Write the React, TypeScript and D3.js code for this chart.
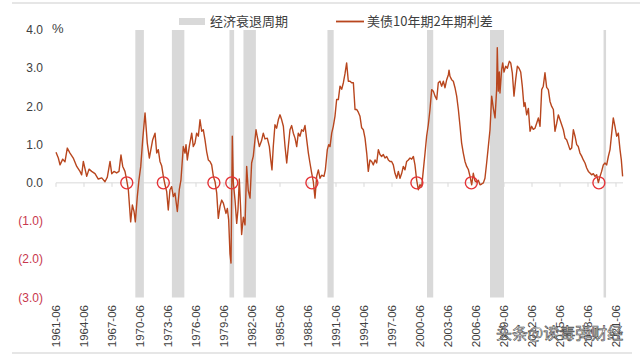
import React from "react";
import * as d3 from "d3";

const years = [
  1961.5, 1961.75, 1961.93, 1962.22, 1962.46, 1962.71, 1963.0, 1963.35, 1963.72, 1964.07, 1964.25, 1964.43, 1964.79,
  1965.04, 1965.32, 1965.68, 1966.03, 1966.4, 1966.75, 1967.0, 1967.29, 1967.47, 1967.71, 1968.0, 1968.25, 1968.46,
  1968.65, 1968.89, 1969.07, 1969.25, 1969.5, 1969.68, 1969.86, 1970.0, 1970.21, 1970.39, 1970.58, 1970.79, 1971.04,
  1971.28, 1971.5, 1971.86, 1972.11, 1972.29, 1972.46, 1972.64, 1972.82, 1973.0, 1973.18, 1973.36, 1973.53, 1973.71,
  1973.89, 1974.07, 1974.25, 1974.5, 1974.71, 1974.89, 1975.14, 1975.32, 1975.43, 1975.57, 1975.78, 1976.04, 1976.21,
  1976.39, 1976.57, 1976.75, 1976.93, 1977.11, 1977.28, 1977.46, 1977.64, 1977.82, 1978.0, 1978.18, 1978.36, 1978.54,
  1978.72, 1978.89, 1979.07, 1979.25, 1979.43, 1979.71, 1979.86, 1980.0, 1980.14, 1980.25, 1980.39, 1980.5, 1980.68,
  1980.86, 1981.0, 1981.14, 1981.27, 1981.39, 1981.57, 1981.75, 1981.93, 1982.1, 1982.29, 1982.46, 1982.64, 1982.93,
  1983.07, 1983.29, 1983.52, 1983.71, 1983.89, 1984.14, 1984.36, 1984.51, 1984.64, 1984.78, 1984.96, 1985.14, 1985.32,
  1985.5, 1985.68, 1985.86, 1986.04, 1986.22, 1986.39, 1986.57, 1986.75, 1986.93, 1987.11, 1987.29, 1987.46, 1987.64,
  1987.82, 1988.0, 1988.18, 1988.36, 1988.54, 1988.71, 1988.89, 1989.07, 1989.25, 1989.43, 1989.61, 1989.79, 1989.96,
  1990.21, 1990.36, 1990.57, 1990.72, 1990.86, 1991.04, 1991.21, 1991.39, 1991.57, 1991.75, 1991.93, 1992.11, 1992.29,
  1992.46, 1992.64, 1992.82, 1993.0, 1993.18, 1993.36, 1993.43, 1993.54, 1993.71, 1993.89, 1994.07, 1994.25, 1994.43,
  1994.61, 1994.79, 1994.96, 1995.14, 1995.32, 1995.5, 1995.68, 1995.86, 1996.04, 1996.21, 1996.39, 1996.57, 1996.75,
  1996.93, 1997.11, 1997.29, 1997.46, 1997.64, 1997.82, 1998.0, 1998.18, 1998.36, 1998.54, 1998.71, 1998.89, 1999.07,
  1999.25, 1999.43, 1999.61, 1999.79, 1999.96, 2000.14, 2000.32, 2000.5, 2000.68, 2000.86, 2001.04, 2001.21, 2001.39,
  2001.57, 2001.75, 2001.93, 2002.11, 2002.29, 2002.46, 2002.64, 2002.82, 2003.0, 2003.18, 2003.36, 2003.54, 2003.61,
  2003.71, 2003.89, 2004.07, 2004.25, 2004.43, 2004.61, 2004.79, 2004.96, 2005.14, 2005.32, 2005.5, 2005.68, 2005.86,
  2006.04, 2006.21, 2006.39, 2006.57, 2006.75, 2006.93, 2007.11, 2007.29, 2007.46, 2007.64, 2007.82, 2008.0, 2008.18,
  2008.36, 2008.54, 2008.71, 2008.78, 2008.89, 2009.0, 2009.07, 2009.25, 2009.36, 2009.5, 2009.68, 2009.86, 2010.07,
  2010.22, 2010.39, 2010.57, 2010.75, 2010.93, 2011.11, 2011.29, 2011.46, 2011.64, 2011.75, 2011.93, 2012.11, 2012.29,
  2012.46, 2012.64, 2012.82, 2013.0, 2013.18, 2013.36, 2013.54, 2013.71, 2013.89, 2014.07, 2014.25, 2014.43, 2014.61,
  2014.79, 2014.96, 2015.14, 2015.32, 2015.5, 2015.68, 2015.86, 2016.04, 2016.21, 2016.39, 2016.57, 2016.75, 2016.93,
  2017.11, 2017.29, 2017.46, 2017.64, 2017.82, 2018.0, 2018.18, 2018.36, 2018.54, 2018.71, 2018.89, 2019.07, 2019.25,
  2019.43, 2019.61, 2019.79, 2019.96, 2020.14, 2020.32, 2020.5, 2020.68, 2020.86, 2021.04, 2021.21, 2021.39, 2021.57,
  2021.75, 2021.93, 2022.07, 2022.21,
];

// 10Y - 2Y treasury spread, %
const spread = [
  0.8, 0.65, 0.47, 0.62, 0.55, 0.91, 0.78, 0.65, 0.43, 0.3, 0.21, 0.56, 0.17,
  0.36, 0.3, 0.24, 0.1, 0.13, 0.03, 0.15, 0.56, 0.24, 0.3, 0.26, 0.3, 0.73,
  0.43, 0.3, 0.08, -0.18, -1.02, -0.58, -0.75, -1.02, -0.36, 0.08, 0.43, 1.13, 1.83,
  1.04, 0.65, 1.13, 1.3, 0.78, 0.87, 0.56, 0.45, 0.17, -0.05, -0.23, -0.71, -0.18,
  -0.1, -0.36, -0.27, -0.75, -0.18, 0.08, 0.95, 0.78, 1.0, 0.6, 0.95, 1.3, 0.95,
  1.04, 1.3, 1.22, 1.65, 1.35, 1.39, 1.13, 0.82, 0.6, 0.56, 0.47, 0.17, 0.03,
  -0.27, -0.93, -0.62, -0.45, -0.53, -0.8, -0.67, -0.97, -1.85, -2.1, 1.22, 0.0, -0.45,
  -1.06, -0.7, 0.1, -0.6, -1.35, -0.9, -1.1, 0.43, -0.2, -0.4, 0.52, 0.7, 1.39,
  1.2, 0.95, 1.1, 1.3, 1.15, 1.17, 0.95, 0.6, 0.34, 0.95, 1.52, 1.43, 1.65,
  1.78, 1.65, 1.48, 0.95, 0.52, 0.95, 1.39, 1.5, 1.3, 1.17, 0.95, 1.3, 1.22,
  1.39, 1.35, 1.5, 1.13, 0.78, 0.52, 0.26, 0.03, -0.4, 0.17, 0.34, 0.12, 0.2,
  0.17, 0.34, 0.87, 1.0, 0.95, 1.3, 1.48, 1.74, 2.18, 2.18, 2.53, 2.45, 2.62,
  2.85, 3.14, 2.66, 2.66, 2.62, 2.62, 2.35, 1.92, 1.92, 1.85, 1.74, 1.44, 1.39,
  1.17, 0.78, 0.3, 0.6, 0.56, 0.47, 0.6, 0.52, 0.87, 0.74, 0.69, 0.74, 0.65,
  0.69, 0.6, 0.56, 0.56, 0.47, 0.25, 0.12, 0.3, 0.12, 0.25, 0.43, 0.34, 0.56,
  0.6, 0.65, 0.62, 0.69, 0.47, 0.08, -0.18, -0.05, -0.1, 0.34, 0.78, 1.22, 1.52,
  1.92, 2.44, 2.4, 2.27, 2.18, 2.62, 2.66, 2.53, 2.66, 2.49, 2.7, 2.83, 2.95,
  2.79, 2.7, 2.66, 2.49, 2.27, 1.92, 1.48, 1.04, 0.78, 0.56, 0.43, 0.35, 0.17,
  -0.05, 0.25, 0.05, 0.02, 0.07, -0.05, -0.03, 0.0, 0.12, 0.52, 0.95, 1.39, 2.27,
  1.95, 1.7, 2.44, 3.54, 2.4, 2.9, 2.35, 2.97, 3.14, 2.9, 3.05, 3.0, 3.18,
  3.14, 2.88, 2.27, 2.7, 3.05, 3.0, 2.9, 2.53, 2.0, 2.1, 1.78, 1.95, 1.35,
  1.48, 1.4, 1.43, 1.56, 1.7, 1.48, 2.44, 2.53, 2.88, 2.5, 2.44, 2.13, 2.0,
  1.92, 1.35, 1.55, 1.78, 1.65, 1.52, 1.39, 1.17, 1.13, 1.0, 0.87, 0.91, 1.39,
  1.22, 1.0, 0.95, 0.78, 0.7, 0.6, 0.52, 0.39, 0.3, 0.26, 0.21, 0.24, 0.17,
  0.21, 0.01, 0.17, 0.3, 0.47, 0.52, 0.47, 0.69, 0.87, 1.3, 1.7, 1.48, 1.22,
  1.3, 0.87, 0.6, 0.17,
];

// NBER recessions (start month, end month)
const recessionStarts = ["1969-12", "1973-11", "1980-01", "1981-07", "1990-07", "2001-03", "2007-12", "2020-02"];
const recessionEnds = ["1970-11", "1975-03", "1980-07", "1982-11", "1991-03", "2001-11", "2009-06", "2020-04"];

// Months where the curve inverts (marked with red circles)
const inversionMonths = ["1969-01", "1972-12", "1978-05", "1980-04", "1988-11", "2000-02", "2005-12", "2019-08"];

const yTickValues = [4, 3, 2, 1, 0, -1, -2, -3];
const yTickLabels = ["4.0", "3.0", "2.0", "1.0", "0.0", "(1.0)", "(2.0)", "(3.0)"];
const xTickLabels = [
  "1961-06", "1964-06", "1967-06", "1970-06", "1973-06", "1976-06", "1979-06", "1982-06", "1985-06", "1988-06",
  "1991-06", "1994-06", "1997-06", "2000-06", "2003-06", "2006-06", "2009-06", "2012-06", "2015-06", "2018-06", "2021-06",
];

const legendRecession = "经济衰退周期";
const legendSpread = "美债10年期2年期利差";
const unitLabel = "%";
const watermark = "头条@读毒弹财经";

const toYear = (s: string) => {
  const [y, m] = s.split("-").map(Number);
  return y + m / 12;
};

const W = 640;
const H = 357;
const LINE = "#b8461e";
const CIRCLE = "#e53438";
const NEG = "#c8374d";
const TXT = "#404040";
const NUMFONT = "'Liberation Sans', Arial, sans-serif";
const CJK = "'Noto Sans CJK SC', 'Noto Sans', sans-serif";

export default function App() {
  const x = d3.scaleLinear().domain([1961.5, 2021.5]).range([56, 616]);
  const y = d3.scaleLinear().domain([-3, 4]).range([297.5, 30]);
  const line = d3
    .line<number>()
    .x((_, i) => x(years[i]))
    .y((d) => y(d))
    .curve(d3.curveLinear);

  return (
    <svg
      width={W}
      height={H}
      viewBox={`0 0 ${W} ${H}`}
      style={{ position: "absolute", left: 0, top: 0, background: "#fff" }}
    >
      <rect x={0} y={0} width={W} height={H} fill="#fff" />
      {/* frame lines */}
      <line x1={12} x2={W} y1={3} y2={3} stroke="#e6e6e6" strokeWidth={2} />
      <line x1={12} x2={W - 8} y1={353} y2={353} stroke="#e6e6e6" strokeWidth={2} />

      {/* recession bars */}
      {recessionStarts.map((s, i) => (
        <rect
          key={s}
          x={x(toYear(s))}
          y={y(4)}
          width={Math.max(2.5, x(toYear(recessionEnds[i])) - x(toYear(s)))}
          height={y(-3) - y(4)}
          fill="#d9d9d9"
        />
      ))}

      {/* zero axis */}
      <line x1={x(1961.5)} x2={x(2022.25)} y1={y(0)} y2={y(0)} stroke="#d9d9d9" strokeWidth={1} />
      {xTickLabels.map((t) => (
        <line key={t} x1={x(toYear(t))} x2={x(toYear(t))} y1={y(0)} y2={y(0) + 4} stroke="#d9d9d9" strokeWidth={1} />
      ))}

      {/* spread line */}
      <path d={line(spread) || ""} fill="none" stroke={LINE} strokeWidth={1.4} strokeLinejoin="round" />

      {/* inversion circles */}
      {inversionMonths.map((m) => (
        <circle key={m} cx={x(toYear(m))} cy={y(0)} r={6} fill="none" stroke={CIRCLE} strokeWidth={1.4} />
      ))}

      {/* y labels */}
      {yTickValues.map((v, i) => (
        <text
          key={v}
          x={43}
          y={y(v)}
          dy="0.35em"
          textAnchor="end"
          fontFamily={NUMFONT}
          fontSize={12}
          fill={v < 0 ? NEG : TXT}
        >
          {yTickLabels[i]}
        </text>
      ))}
      <text x={52} y={33} fontFamily={NUMFONT} fontSize={13} fill={TXT}>
        {unitLabel}
      </text>

      {/* x labels */}
      {xTickLabels.map((t) => (
        <text
          key={t}
          transform={`translate(${x(toYear(t)) + 4},305) rotate(-90)`}
          textAnchor="end"
          fontFamily={NUMFONT}
          fontSize={11.5}
          fill={TXT}
        >
          {t}
        </text>
      ))}

      {/* legend */}
      <rect x={179} y={18} width={26} height={7} fill="#d9d9d9" />
      <text x={210} y={26} fontFamily={CJK} fontSize={13} fill={TXT}>
        {legendRecession}
      </text>
      <line x1={336} x2={364} y1={21.5} y2={21.5} stroke={LINE} strokeWidth={1.8} />
      <text x={367} y={26} fontFamily={CJK} fontSize={13} fill={TXT}>
        {legendSpread}
      </text>

      {/* watermark */}
      <text
        x={496}
        y={339}
        fontFamily={CJK}
        fontSize={16}
        fill="#ffffff"
        fillOpacity={0.85}
        stroke="#444"
        strokeWidth={0.6}
      >
        {watermark}
      </text>
    </svg>
  );
}
